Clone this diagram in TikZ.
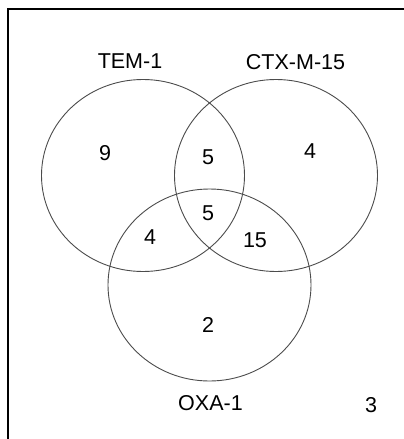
\documentclass[tikz,border=0pt]{standalone}
\usepackage{fontspec}
\setmainfont{Liberation Sans}
\begin{document}
\begin{tikzpicture}[x=1pt,y=-1pt,
  setc/.style={draw=black!70,line width=0.9pt},
  lbl/.style={font=\fontsize{21.5}{25}\selectfont,inner sep=0pt,anchor=center},
  frame/.style={draw=black,line width=1.3pt}]
\useasboundingbox (0,0) rectangle (404,439);
\fill[white] (0,0) rectangle (404,439);
\draw[frame] (8,439) -- (8,9) -- (404,9);
\draw[setc] (143,175.5) ellipse [x radius=101.5, y radius=96];
\draw[setc] (276,175.5) ellipse [x radius=101.5, y radius=96];
\draw[setc] (209.5,285) ellipse [x radius=101.5, y radius=96];
\node[lbl] (tem) at (130,61) {TEM-1};
\node[lbl] (ctx) at (295.5,62) {CTX-M-15};
\node[lbl] (oxa) at (210.5,403) {OXA-1};
\node[lbl] (n9) at (105,153) {9};
\node[lbl] (n5a) at (208,157) {5};
\node[lbl] (n4r) at (310,151) {4};
\node[lbl] (n5c) at (208,213) {5};
\node[lbl] (n4l) at (150,237) {4};
\node[lbl] (n15) at (255,240) {15};
\node[lbl] (n2) at (208,325) {2};
\node[lbl] (n3) at (371,405.5) {3};
\end{tikzpicture}
\end{document}
